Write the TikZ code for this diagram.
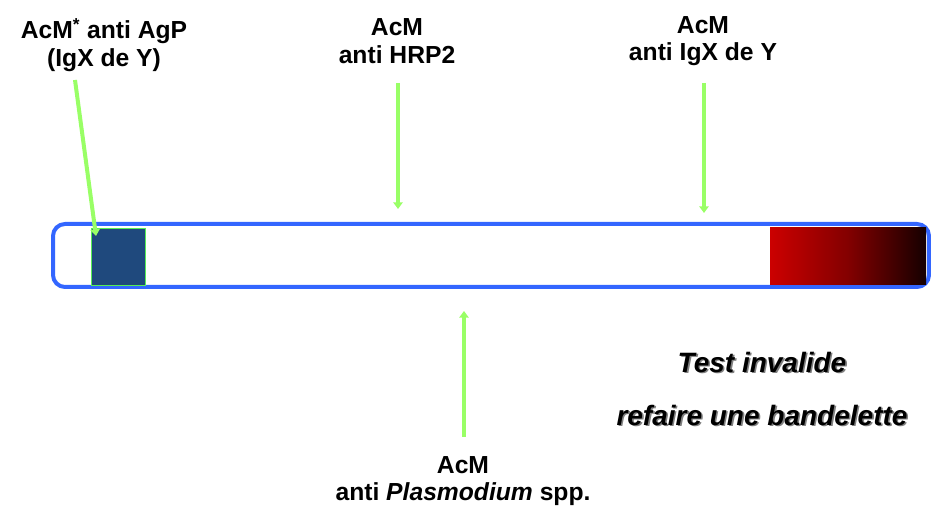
\documentclass[tikz,border=0pt]{standalone}
\usepackage{fontspec}
\setmainfont{Liberation Sans}
\usetikzlibrary{arrows.meta}
\definecolor{stripblue}{HTML}{3366FF}
\definecolor{padblue}{HTML}{1F497D}
\definecolor{padedge}{HTML}{55EE55}
\definecolor{arrgreen}{HTML}{99FF66}
\definecolor{padred}{HTML}{CC0000}
\definecolor{paddark}{HTML}{150000}
\begin{document}
\begin{tikzpicture}[x=0.75pt,y=-0.75pt,
  lbl/.style={font=\bfseries\fontsize{18.5}{20.5}\selectfont, align=center, inner sep=0pt},
  warn/.style={font=\bfseries\itshape\fontsize{21}{24}\selectfont, inner sep=0pt},
  garrow/.style={draw=arrgreen, line width=3pt, -{Triangle[width=7pt,length=5pt]}}]
\useasboundingbox (0,0) rectangle (931,509);
% strip
\draw[stripblue, line width=3pt, rounded corners=9pt] (53,224) rectangle (929,287);
\node[draw=padedge, line width=1pt, fill=padblue, minimum width=40.5pt, minimum height=42.75pt, inner sep=0pt, anchor=north west] (pad) at (91,228) {};
\shade[left color=padred, right color=paddark, middle color=padred!60!paddark] (770,228) rectangle (926,285);
\node[inner sep=0pt] (rpad) at (848,256) {};
% labels
\node[lbl] (l1) at (104,45) {AcM\textsuperscript{*} anti AgP\\(IgX de Y)};
\node[lbl] (l2) at (397,41) {AcM\\anti HRP2};
\node[lbl] (l3) at (703,41) {AcM\\anti IgX de Y};
\node[lbl] (l4) at (463,481) {AcM\\anti \textit{Plasmodium} spp.};
\node[warn, text=gray, xshift=1.2pt, yshift=-1.2pt] at (762,362) {Test invalide};
\node[warn] (w1) at (762,362) {Test invalide};
\node[warn, text=gray, xshift=1.2pt, yshift=-1.2pt] at (762,415) {refaire une bandelette};
\node[warn] (w2) at (762,415) {refaire une bandelette};
% arrow anchors
\coordinate (a1s) at (75,80);
\coordinate (a1e) at (96,236);
\coordinate (a2s) at (398,83);
\coordinate (a2e) at (398,209);
\coordinate (a3s) at (704,83);
\coordinate (a3e) at (704,213);
\coordinate (a4s) at (464,437);
\coordinate (a4e) at (464,311);
\draw[garrow] (a1s) -- (a1e);
\draw[garrow] (a2s) -- (a2e);
\draw[garrow] (a3s) -- (a3e);
\draw[garrow] (a4s) -- (a4e);
\end{tikzpicture}
\end{document}
